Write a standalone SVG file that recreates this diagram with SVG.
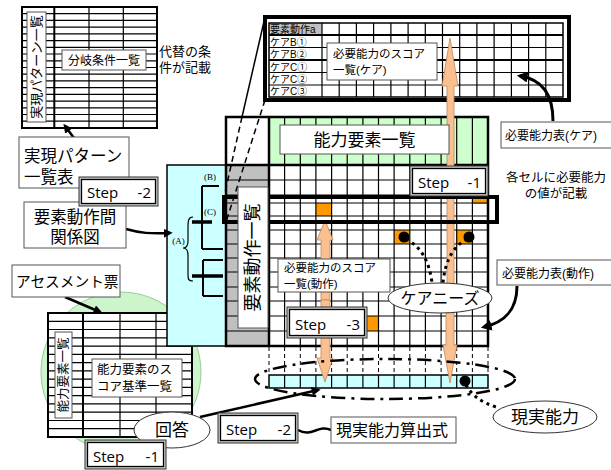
<svg xmlns="http://www.w3.org/2000/svg" width="611" height="470" viewBox="0 0 611 470">
<defs>
<marker id="ah" viewBox="0 0 10 10" refX="7" refY="5" markerWidth="3.6" markerHeight="3.6" orient="auto" markerUnits="strokeWidth"><path d="M0,0 L10,5 L0,10 z" fill="#000"/></marker>
</defs>
<style>
.jp{font-family:"Liberation Sans","Noto Sans CJK JP","Noto Sans CJK SC",sans-serif;fill:#000}
.st{font-family:"Open Sans","Liberation Sans",sans-serif;font-size:15px;fill:#000}
.lb{fill:#fff;stroke:#555;stroke-width:1}
.g{fill:none;stroke:#000;stroke-width:1.2}
.tk{fill:none;stroke:#000;stroke-width:2.5}
.pa{fill:#fac090;stroke:#c08858;stroke-width:0.8}
.org{fill:#ff9900}
.dot{fill:none;stroke:#000;stroke-width:3;stroke-dasharray:3 4}
.sb1{fill:#c8c8c8;stroke:#333;stroke-width:1}
.sb2{fill:#fff;stroke:#000;stroke-width:1.3}
.ar{fill:none;stroke:#000;stroke-width:2.5;marker-end:url(#ah)}
.dsh{fill:none;stroke:#000;stroke-width:1;stroke-dasharray:4 3}
</style>

<circle id="assess-bg" cx="121" cy="372" r="80" fill="#ccf5cc" stroke="#9c9" stroke-width="1"/>

<g id="pattern-table">
<rect x="22" y="7" width="135" height="121" fill="#fff" stroke="#000" stroke-width="2"/>
<path class="g" d="M22,13.7H157M22,20.4H157M22,27.2H157M22,33.9H157M22,40.6H157M22,47.3H157M22,54H157M22,60.8H157M22,67.5H157M22,74.2H157M22,80.9H157M22,87.6H157M22,94.4H157M22,101.1H157M22,107.8H157M22,114.5H157M22,121.2H157M89,7V128M123.3,7V128"/>
<path d="M54.3,7V128" stroke="#000" stroke-width="2"/>
<rect class="lb" x="27" y="12" width="19" height="110"/>
<text class="jp" font-size="13" text-anchor="middle" dominant-baseline="central" transform="translate(36.5,67) rotate(-90)">実現パターン一覧</text>
<rect class="lb" x="62" y="50" width="84" height="20"/>
<text class="jp" font-size="12" x="104" y="64.5" text-anchor="middle">分岐条件一覧</text>
</g>
<g id="alt-note">
<text class="jp" font-size="13" x="159" y="56">代替の条</text>
<text class="jp" font-size="13" x="159" y="72">件が記載</text>
</g>

<g id="assess-table">
<rect x="48" y="313" width="144" height="124" fill="#fff" stroke="#000" stroke-width="2"/>
<path class="g" d="M48,321.3H192M48,329.5H192M48,337.8H192M48,346.1H192M48,354.3H192M48,362.6H192M48,370.9H192M48,379.1H192M48,387.4H192M48,395.7H192M48,403.9H192M48,412.2H192M48,420.5H192M48,428.7H192M120,313V437M156,313V437"/>
<path d="M83,313V437" stroke="#000" stroke-width="2"/>
<rect class="lb" x="55" y="332" width="17" height="86"/>
<text class="jp" font-size="12.5" text-anchor="middle" dominant-baseline="central" transform="translate(63.5,375) rotate(-90)">能力要素一覧</text>
<rect class="lb" x="92" y="359" width="90" height="38"/>
<text class="jp" font-size="12.5" x="97" y="374">能力要素のス</text>
<text class="jp" font-size="12.5" x="97" y="391">コア基準一覧</text>
</g>

<g id="relation-panel">
<rect x="167" y="165" width="59" height="181" fill="#ccffff" stroke="#000" stroke-width="1.5"/>
<path d="M202,186V249M202,186H219M202,249H223M203,260V296M203,260H223M203,296H223" fill="none" stroke="#000" stroke-width="2"/>
<path d="M192,222H212M192,276H223" fill="none" stroke="#000" stroke-width="3.5"/>
<path d="M193,217C188,217 188,221 188,229L188,241C188,246 186,248 183,248C186,248 188,250 188,255L188,274C188,279 188,281 193,281" fill="none" stroke="#000" stroke-width="1.2"/>
<text x="210" y="180" font-family="Liberation Serif,serif" font-size="9" text-anchor="middle">(B)</text>
<text x="210" y="215" font-family="Liberation Serif,serif" font-size="9" text-anchor="middle">(C)</text>
<text x="178.5" y="244" font-family="Liberation Serif,serif" font-size="9" text-anchor="middle">(A)</text>
</g>

<g id="main-grid">
<rect x="226" y="165" width="43" height="181" fill="#c0c0c0"/>
<rect x="226" y="117" width="43" height="48" fill="#fff"/>
<rect x="269" y="117" width="219" height="48" fill="#ccffcc"/>
<rect x="269" y="165" width="219" height="181" fill="#fff"/>
<rect class="org" x="315.9" y="203" width="15.6" height="13"/>
<rect class="org" x="394.1" y="230" width="15.6" height="14"/>
<rect class="org" x="456.7" y="230" width="15.6" height="14"/>
<rect class="org" x="362.9" y="316" width="15.6" height="15"/>
<rect class="org" x="472.4" y="199" width="15.6" height="5"/>
<path class="g" d="M226,180H488M226,195H488M226,203H488M226,216H488M226,230H488M226,244H488M226,258H488M226,272H488M226,287H488M226,301H488M226,316H488M226,331H488"/>
<path class="g" d="M284.6,117V346M300.3,117V346M315.9,117V346M331.6,117V346M347.2,117V346M362.9,117V346M378.5,117V346M394.1,117V346M409.8,117V346M425.4,117V346M441.1,117V346M456.7,117V346M472.4,117V346"/>
<path class="tk" d="M226,165H488M269,117V346"/>
<rect x="226" y="117" width="262" height="229" class="tk"/>
</g>

<g id="reality-row">
<path class="dsh" d="M269,347V375M284.6,347V375M300.3,347V375M315.9,347V375M331.6,347V375M347.2,347V375M362.9,347V375M378.5,347V375M394.1,347V375M409.8,347V375M425.4,347V375M441.1,347V375M456.7,347V375M472.4,347V375M488,347V375"/>
<rect x="269" y="375" width="219" height="13" fill="#ccffff" stroke="#000" stroke-width="1.5"/>
<path class="g" d="M284.6,375V388M300.3,375V388M315.9,375V388M331.6,375V388M347.2,375V388M362.9,375V388M378.5,375V388M394.1,375V388M409.8,375V388M425.4,375V388M441.1,375V388M456.7,375V388M472.4,375V388"/>
</g>

<g id="care-table">
<rect x="265" y="17" width="304" height="83" fill="#fff" stroke="#000" stroke-width="4"/>
<rect x="269" y="23" width="53" height="12" fill="#c0c0c0"/>
<rect x="269" y="23" width="294" height="74" fill="none" stroke="#000" stroke-width="1.5"/>
<path class="g" d="M269,47.5H563M269,72.5H563M269,85H563M322,23V97M339.2,23V97M356.4,23V97M373.6,23V97M390.9,23V97M408.1,23V97M425.3,23V97M442.5,23V97M459.7,23V97M476.9,23V97M494.1,23V97M511.4,23V97M528.6,23V97M545.8,23V97"/>
<path d="M269,35H563M269,60H563" stroke="#000" stroke-width="2"/>
<g class="jp" font-size="10">
<text x="270" y="33">要素動作a</text>
<text x="270" y="45.5">ケアB①</text>
<text x="270" y="58">ケアB②</text>
<text x="270" y="70.5">ケアC①</text>
<text x="270" y="83">ケアC②</text>
<text x="270" y="95">ケアC③</text>
</g>
</g>

<g id="connectors">
<path d="M265,17L242,117" stroke="#000" stroke-width="1.5" fill="none"/>
<path d="M242,117L224,197M265,100L226,222" stroke="#000" stroke-width="1.5" fill="none" stroke-dasharray="6 4"/>
<path class="ar" d="M74,138L65,126"/>
<path class="ar" d="M126,229C140,233 150,234 170,233"/>
<path class="ar" d="M65,297L100,312"/>
<path class="ar" d="M200,417L318,390"/>
<path class="tk" d="M298,430C312,438 318,424 331,430"/>
<path class="ar" style="stroke-width:3" d="M553,121C553,92 540,79 520,76"/>
<path class="ar" style="stroke-width:3" d="M517,286C517,310 505,322 484,327"/>
<polygon class="pa" points="447,298 447,86 442,86 450,38 458,86 454,86 454,298"/>
<polygon class="pa" points="446,298 446,345 443,345 450,383 457,345 454,345 454,298"/>
<polygon class="pa" points="321,300 321,240 317,240 325,220 333,240 330,240 330,300"/>
<polygon class="pa" points="321,300 321,358 317,358 325,382 333,358 330,358 330,300"/>
<rect x="224" y="197" width="273" height="25" fill="none" stroke="#000" stroke-width="4"/>
<path class="dot" d="M406,239Q428,250 432,283"/>
<path class="dot" d="M467,239Q446,250 443,283"/>
<path class="dot" d="M466,385Q474,400 496,407"/>
<circle cx="404" cy="237" r="5.5"/>
<circle cx="469" cy="237" r="5.5"/>
<circle cx="465" cy="381" r="5.5"/>
<ellipse cx="385" cy="379" rx="130" ry="20" fill="none" stroke="#000" stroke-width="2.5" stroke-dasharray="14 6 3 6"/>
</g>

<g id="label-ability">
<rect class="lb" x="280" y="125" width="169" height="29"/>
<text class="jp" font-size="17" x="364.5" y="146" text-anchor="middle">能力要素一覧</text>
</g>
<g id="label-actions">
<rect class="lb" x="238" y="187" width="30" height="141"/>
<text class="jp" font-size="18" text-anchor="middle" dominant-baseline="central" transform="translate(253,257.5) rotate(-90)">要素動作一覧</text>
</g>
<g id="label-score-care">
<rect class="lb" x="327" y="43" width="110" height="37"/>
<text class="jp" font-size="11.5" x="333" y="58">必要能力のスコア</text>
<text class="jp" font-size="11.5" x="333" y="74">一覧(ケア)</text>
</g>
<g id="label-score-action">
<rect class="lb" x="278" y="259" width="112" height="33"/>
<text class="jp" font-size="11.5" x="284" y="272">必要能力のスコア</text>
<text class="jp" font-size="11.5" x="284" y="288">一覧(動作)</text>
</g>
<g id="label-table-care">
<rect class="lb" x="501" y="122" width="115" height="26"/>
<text class="jp" font-size="12" x="505" y="140">必要能力表(ケア)</text>
</g>
<g id="label-table-action">
<rect class="lb" x="497" y="260" width="116" height="25"/>
<text class="jp" font-size="12" x="502" y="277.5">必要能力表(動作)</text>
</g>
<g id="note-cells">
<text class="jp" font-size="12.5" x="556" y="182" text-anchor="middle">各セルに必要能力</text>
<text class="jp" font-size="12.5" x="556" y="198" text-anchor="middle">の値が記載</text>
</g>
<g id="label-pattern">
<rect class="lb" x="19" y="137" width="110" height="51"/>
<text class="jp" font-size="16.5" x="24" y="162">実現パターン</text>
<text class="jp" font-size="16.5" x="24" y="183">一覧表</text>
</g>
<g id="label-relation">
<rect class="lb" x="24" y="202" width="102" height="46"/>
<text class="jp" font-size="16.5" x="75" y="223" text-anchor="middle">要素動作間</text>
<text class="jp" font-size="16.5" x="75" y="243" text-anchor="middle">関係図</text>
</g>
<g id="label-assess">
<rect class="lb" x="12" y="265" width="108" height="32"/>
<text class="jp" font-size="14.7" x="16" y="287">アセスメント票</text>
</g>
<g id="answer">
<ellipse cx="172" cy="430" rx="38" ry="18" fill="#fff" stroke="#333" stroke-width="1"/>
<text class="jp" font-size="17" x="172" y="436" text-anchor="middle">回答</text>
</g>
<g id="care-needs">
<ellipse cx="440" cy="298" rx="52" ry="15" fill="#fff" stroke="#333" stroke-width="1"/>
<text class="jp" font-size="16" x="440" y="304" text-anchor="middle">ケアニーズ</text>
</g>
<g id="reality">
<ellipse cx="545" cy="417" rx="52" ry="16" fill="#fff" stroke="#333" stroke-width="1"/>
<text class="jp" font-size="17" x="545" y="423" text-anchor="middle">現実能力</text>
</g>
<g id="label-formula">
<rect class="lb" x="331" y="417" width="125" height="26"/>
<text class="jp" font-size="16" x="336" y="436">現実能力算出式</text>
</g>

<g id="step2-top"><rect class="sb1" x="79" y="177" width="79" height="29"/><rect class="sb2" x="81.5" y="179.5" width="74" height="24"/><text class="st" x="87" y="198">Step</text><text class="st" x="151" y="198" text-anchor="end">-2</text></g>
<g id="step1-top"><rect class="sb1" x="410" y="166" width="78" height="30"/><rect class="sb2" x="412.5" y="168.5" width="73" height="25"/><text class="st" x="418" y="188">Step</text><text class="st" x="481" y="188" text-anchor="end">-1</text></g>
<g id="step3"><rect class="sb1" x="287" y="307" width="80" height="31"/><rect class="sb2" x="289.5" y="309.5" width="75" height="26"/><text class="st" x="295" y="330">Step</text><text class="st" x="360" y="330" text-anchor="end">-3</text></g>
<g id="step2-bottom"><rect class="sb1" x="218" y="413" width="80" height="30"/><rect class="sb2" x="220.5" y="415.5" width="75" height="25"/><text class="st" x="226" y="435">Step</text><text class="st" x="291" y="435" text-anchor="end">-2</text></g>
<g id="step1-bottom"><rect class="sb1" x="85" y="440" width="81" height="29"/><rect class="sb2" x="87.5" y="442.5" width="76" height="24"/><text class="st" x="93" y="462">Step</text><text class="st" x="159" y="462" text-anchor="end">-1</text></g>
</svg>
